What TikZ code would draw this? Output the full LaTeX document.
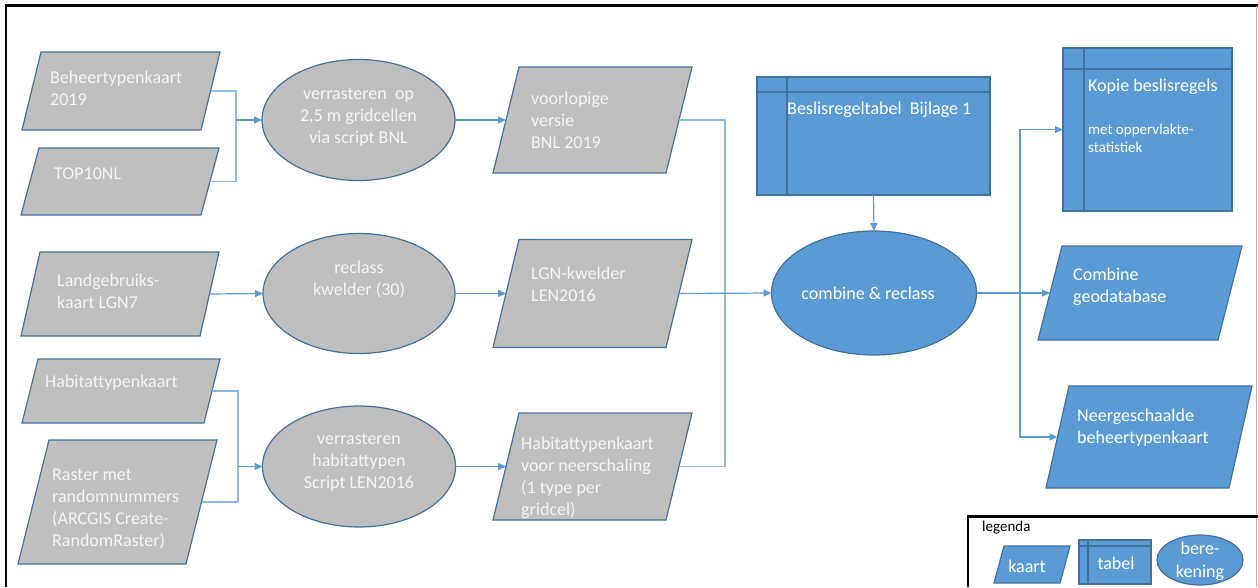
\documentclass[tikz,border=0pt]{standalone}
\usepackage{fontspec}
\setmainfont{Carlito}
\usetikzlibrary{shapes.geometric,arrows.meta}
\definecolor{grayfill}{HTML}{BFBFBF}
\definecolor{bluefill}{HTML}{5B9BD5}
\definecolor{edgeblue}{HTML}{41719C}
\definecolor{connblue}{HTML}{5B9BD5}
\definecolor{connlight}{HTML}{8DB9E2}
\definecolor{txtw}{HTML}{F4F4F4}
\tikzset{
  anchorbox/.style={draw=none, inner sep=0, outer sep=0, rectangle},
  shapeline/.style={draw=edgeblue, line width=1.2pt},
  calc/.style={ellipse, shapeline, inner sep=0, outer sep=0},
  txt/.style={text=txtw, font=\fontsize{18}{22}\selectfont, align=left, inner sep=0, anchor=west},
  ctxt/.style={text=txtw, font=\fontsize{18}{22}\selectfont, align=center, inner sep=0},
  link/.style={draw=connlight, line width=1.2pt},
  arrow/.style={draw=connblue, line width=1.2pt, -{Triangle[length=8pt,width=7pt]}},
}
\newcommand\kaartnode[7]{%
  \node[anchorbox, minimum width=#4, minimum height=#5] (#1) at (#2,#3) {};
  \filldraw[shapeline, fill=#7] ([xshift=#6]#1.north west) -- (#1.north east) -- ([xshift=-#6]#1.south east) -- (#1.south west) -- cycle;
}
\newcommand\tabelnode[7]{%
  \node[anchorbox, minimum width=#4, minimum height=#5] (#1) at (#2,#3) {};
  \filldraw[shapeline, fill=bluefill] (#1.north west) rectangle (#1.south east);
  \draw[shapeline] ([yshift=-#6]#1.north west) -- ([yshift=-#6]#1.north east);
  \draw[shapeline] ([xshift=#7]#1.north west) -- ([xshift=#7]#1.south west);
}
\begin{document}
\begin{tikzpicture}[x=1pt, y=-1pt]
\useasboundingbox (0,0) rectangle (1258,587);
% frame
\draw[line width=2.5pt] (6,587) -- (6,5.5) -- (1257.5,5.5);
\draw[black!30, line width=0.8pt] (1256.5,5.5) -- (1256.5,587);

% input maps
\kaartnode{b1}{121}{91}{198}{78}{19}{grayfill}
\kaartnode{t1}{120}{181.5}{198}{67}{18}{grayfill}
\kaartnode{l1}{120}{294}{198}{84}{19}{grayfill}
\kaartnode{h1}{121}{391}{198}{64}{16}{grayfill}
\kaartnode{r1}{117.5}{502}{199}{124}{31}{grayfill}
\node[txt] (b1t) at (50,88) {Beheertypenkaart\\2019};
\node[txt] (t1t) at (54,174) {TOP10NL};
\node[txt] (l1t) at (57,291) {Landgebruiks-\\kaart LGN7};
\node[txt] (h1t) at (45,383) {Habitattypenkaart};
\node[txt] (r1t) at (52,508.5) {Raster met\\randomnummers\\(ARCGIS Create-\\RandomRaster)};

% calculations
\node[calc, fill=grayfill, minimum width=193, minimum height=121] (e1) at (358.5,120) {};
\node[calc, fill=grayfill, minimum width=192, minimum height=120] (e2) at (359,293.5) {};
\node[calc, fill=grayfill, minimum width=193, minimum height=121] (e3) at (359,466.5) {};
\node[ctxt] (e1t) at (358.5,117) {verrasteren\ \ op\\2,5 m gridcellen\\via script BNL};
\node[ctxt] (e2t) at (359,279.5) {reclass\\kwelder (30)};
\node[ctxt] (e3t) at (359,462.5) {verrasteren\\habitattypen\\Script LEN2016};

% intermediate maps
\kaartnode{v}{592.5}{120}{199}{106}{26}{grayfill}
\kaartnode{lgn}{592.5}{293.5}{199}{108}{26}{grayfill}
\kaartnode{hv}{592.5}{466.5}{199}{107}{26}{grayfill}
\node[txt] (vt) at (531,120.5) {voorlopige\\versie\\BNL 2019};
\node[txt] (lgnt) at (531,284) {LGN-kwelder\\LEN2016};
\node[txt] (hvt) at (521,478) {Habitattypenkaart\\voor neerschaling\\(1 type per\\gridcel)};

% table + combine
\tabelnode{T1}{873.5}{136}{233}{118}{15}{30}
\node[txt, text=white] (T1t) at (787,110) {Beslisregeltabel\ \ Bijlage 1};
\node[calc, fill=bluefill, minimum width=205, minimum height=124] (cb) at (874,293) {};
\node[ctxt, text=white] (cbt) at (868,293) {combine \& reclass};

% outputs
\tabelnode{K}{1147.5}{129.5}{169}{163}{21}{21}
\node[txt, text=white] (Kt) at (1088,87) {Kopie beslisregels};
\node[txt, text=white, font=\fontsize{15}{18}\selectfont] (Kt2) at (1088,138) {met oppervlakte-\\statistiek};
\kaartnode{cg}{1140}{293}{204}{94}{24}{bluefill}
\node[txt, text=white] (cgt) at (1073,286.5) {Combine\\geodatabase};
\kaartnode{n}{1149}{437}{206}{102}{23}{bluefill}
\node[txt, text=white] (nt) at (1077,427.5) {Neergeschaalde\\beheertypenkaart};

% connectors
\coordinate (j1) at (236,120);
\coordinate (j3) at (238,466.5);
\coordinate (j4) at (725,293.5);
\coordinate (j5) at (1020,293);
\draw[link] ([xshift=-9.5]b1.east) -| (j1) |- ([xshift=-9]t1.east);
\draw[arrow] (j1) -- (e1.west);
\draw[arrow] ([xshift=-9.5]l1.east) -- (e2.west);
\draw[link] ([xshift=-8]h1.east) -| (j3) |- ([xshift=-15.5]r1.east);
\draw[arrow] (j3) -- (e3.west);
\draw[arrow] (e1.east) -- ([xshift=13]v.west);
\draw[arrow] (e2.east) -- ([xshift=13]lgn.west);
\draw[arrow] (e3.east) -- ([xshift=13]hv.west);
\draw[link] ([xshift=-13]v.east) -| (j4) |- ([xshift=-13]hv.east);
\draw[arrow] ([xshift=-13]lgn.east) -- (cb.west);
\draw[arrow] (T1.south) -- (cb.north);
\draw[arrow] (cb.east) -- ([xshift=12]cg.west);
\draw[arrow] (j5) |- (K.west);
\draw[arrow] (j5) |- ([xshift=11.5]n.west);

% legend
\draw[line width=2.5pt] (968,587) -- (968,516.5) -- (1257.5,516.5);
\node[anchor=west, inner sep=0, font=\fontsize{15}{18}\selectfont] (leg) at (982,528) {legenda};
\kaartnode{lk}{1032}{564.5}{76}{37}{10}{bluefill}
\node[ctxt, text=white] (lkt) at (1027,566) {kaart};
\tabelnode{lt}{1115}{562}{72}{44}{6}{9}
\node[ctxt, text=white] (ltt) at (1116,563) {tabel};
\node[calc, fill=bluefill, minimum width=86, minimum height=50] (le) at (1200,560) {};
\node[ctxt, text=white, font=\fontsize{18}{23}\selectfont] (let) at (1200,561) {bere-\\kening};
\end{tikzpicture}
\end{document}
